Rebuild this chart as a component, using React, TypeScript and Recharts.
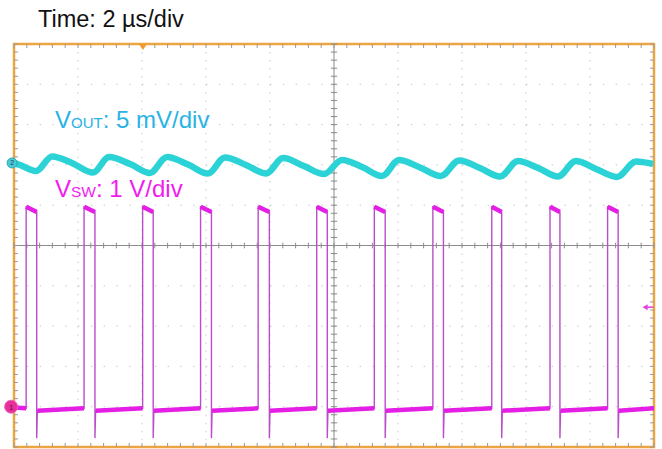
import React from "react";
import {
  ComposedChart,
  Line,
  XAxis,
  YAxis,
  CartesianGrid,
  ReferenceLine,
  ReferenceArea,
  ReferenceDot,
} from "recharts";

// time axis in µs (2 µs/div, 10 div); VSW axis in V (1 V/div, ground one div above bottom)
const majorX = [0, 2, 4, 6, 8, 10, 12, 14, 16, 18, 20];
const majorY = [-1, 0, 1, 2, 3, 4, 5, 6, 7, 8, 9];
const minorX = Array.from({ length: 51 }, (_, i) => +(i * 0.4).toFixed(2));
const minorY = Array.from({ length: 51 }, (_, i) => +(i * 0.2 - 1).toFixed(2));

// VOUT ripple, mV (5 mV/div)
const outTime = [
  0, 0.19, 0.69, 1.19, 1.81, 2.47, 2.97, 3.63, 4.25, 4.78, 5.44, 6.06, 6.59,
  7.25, 7.88, 8.41, 9.06, 9.69, 10.25, 10.88, 11.5, 12.03, 12.69, 13.34, 13.91,
  14.56, 15.19, 15.75, 16.38, 17.0, 17.56, 18.19, 18.84, 19.44, 19.97,
];
const outMv = [
  0.24, -0.01, -0.76, 1.04, 0.24, -0.94, 0.98, 0.11, -1.0, 0.98, 0.05, -1.07,
  0.92, -0.01, -1.07, 0.86, -0.14, -1.13, 0.61, -0.26, -1.38, 0.61, -0.32,
  -1.38, 0.55, -0.38, -1.44, 0.48, -0.38, -1.44, 0.48, -0.51, -1.5, 0.42, 0.11,
];

// VSW switching node, V: edge times in µs and levels
const swRise = [0.38, 2.19, 4.02, 5.83, 7.63, 9.46, 11.26, 13.09, 14.93, 16.75, 18.55];
const swFall = [0.71, 2.53, 4.35, 6.17, 7.98, 9.79, 11.6, 13.42, 15.24, 17.06, 18.88];
const swHigh = [4.96, 4.83]; // top at rising edge, top at falling edge
const swLow = [-0.1, -0.04]; // low after falling edge, low before rising edge
const swSpike = -0.78;

const outData = outTime.map((t, i) => ({ t, v: outMv[i] }));

const swEdges: { t: number; v: number | null }[] = [{ t: 0, v: -0.02 }];
const swFlat: { t: number; v: number | null }[] = [{ t: 0, v: -0.02 }];
swRise.forEach((r, i) => {
  const f = swFall[i];
  swEdges.push(
    { t: r, v: swLow[1] },
    { t: r, v: swHigh[0] },
    { t: f, v: swHigh[1] },
    { t: f, v: swSpike },
    { t: f + 0.02, v: swLow[0] }
  );
  swFlat.push(
    { t: r, v: swLow[1] },
    { t: r, v: null },
    { t: r, v: swHigh[0] },
    { t: f, v: swHigh[1] },
    { t: f, v: null },
    { t: f + 0.02, v: swLow[0] }
  );
});
swEdges.push({ t: 20, v: swLow[1] });
swFlat.push({ t: 20, v: swLow[1] });

const labelFont = "'Liberation Sans', Arial, sans-serif";
const tickGray = "#9a9a9a";

const seg = (key: string, a: { x: number; y: number }, b: { x: number; y: number }, stroke: string) => (
  <ReferenceLine key={key} xAxisId="t" yAxisId="sw" segment={[a, b]} stroke={stroke} strokeWidth={1} ifOverflow="visible" />
);

const App: React.FC = () => {
  return (
    <div style={{ position: "absolute", left: 0, top: 0, width: 662, height: 449, background: "#fff" }}>
      <ComposedChart width={662} height={449} margin={{ top: 44, left: 14, right: 8, bottom: 2 }}>
        <XAxis xAxisId="t" type="number" dataKey="t" domain={[0, 20]} ticks={majorX} hide allowDataOverflow />
        <YAxis yAxisId="sw" type="number" domain={[-1, 9]} ticks={majorY} hide allowDataOverflow />
        <YAxis yAxisId="out" type="number" domain={[-35, 15]} hide allowDataOverflow />

        <CartesianGrid xAxisId="t" yAxisId="sw" vertical={false} stroke="#c8c8c8" strokeDasharray="1.5 11.3" />
        <CartesianGrid xAxisId="t" yAxisId="sw" horizontal={false} stroke="#c8c8c8" strokeDasharray="1.5 6.56" />

        <ReferenceLine xAxisId="t" yAxisId="sw" x={10} stroke="#8c8c8c" strokeWidth={1} />
        <ReferenceLine xAxisId="t" yAxisId="sw" y={4} stroke="#8c8c8c" strokeWidth={1} />
        {minorX.map((x) => seg(`cx${x}`, { x, y: 3.93 }, { x, y: 4.07 }, "#8c8c8c"))}
        {minorY.map((y) => seg(`cy${y}`, { x: 9.9, y }, { x: 10.1, y }, "#8c8c8c"))}
        {minorX.map((x) => seg(`bx${x}`, { x, y: -1 }, { x, y: -0.9 }, tickGray))}
        {minorX.map((x) => seg(`tx${x}`, { x, y: 9 }, { x, y: 8.9 }, tickGray))}
        {minorY.map((y) => seg(`ly${y}`, { x: 0, y }, { x: 0.125, y }, tickGray))}
        {minorY.map((y) => seg(`ry${y}`, { x: 20, y }, { x: 19.875, y }, tickGray))}

        <Line
          data={swEdges}
          dataKey="v"
          xAxisId="t"
          yAxisId="sw"
          type="linear"
          stroke="#b94ec9"
          strokeWidth={1.4}
          dot={false}
          isAnimationActive={false}
        />
        <Line
          data={swFlat}
          dataKey="v"
          xAxisId="t"
          yAxisId="sw"
          type="linear"
          stroke="#e41ee4"
          strokeWidth={4.5}
          dot={false}
          connectNulls={false}
          isAnimationActive={false}
        />
        <Line
          data={outData}
          dataKey="v"
          xAxisId="t"
          yAxisId="out"
          type="monotone"
          stroke="#2cd3d6"
          strokeWidth={6.5}
          dot={false}
          isAnimationActive={false}
        />

        <ReferenceArea
          xAxisId="t"
          yAxisId="sw"
          x1={0}
          x2={20}
          y1={-1}
          y2={9}
          fill="none"
          fillOpacity={0}
          stroke="#eca540"
          strokeWidth={2.5}
          ifOverflow="visible"
        />

        <ReferenceDot
          xAxisId="t"
          yAxisId="sw"
          x={4.03}
          y={9}
          ifOverflow="visible"
          shape={(p: any) => (
            <path d={`M${p.cx - 4},${p.cy} L${p.cx + 4},${p.cy} L${p.cx},${p.cy + 6} Z`} fill="#f29a2e" />
          )}
        />
        <ReferenceDot
          xAxisId="t"
          yAxisId="sw"
          x={19.8}
          y={2.47}
          ifOverflow="visible"
          shape={(p: any) => (
            <g>
              <line x1={p.cx - 2} y1={p.cy} x2={p.cx + 6} y2={p.cy} stroke="#e040e0" strokeWidth={1.5} />
              <path d={`M${p.cx - 5},${p.cy} L${p.cx},${p.cy - 3} L${p.cx},${p.cy + 3} Z`} fill="#e040e0" />
            </g>
          )}
        />
        <ReferenceDot
          xAxisId="t"
          yAxisId="out"
          x={-0.06}
          y={0.24}
          ifOverflow="visible"
          shape={(p: any) => (
            <g>
              <circle cx={p.cx} cy={p.cy} r={5} fill="#4cc9d6" stroke="#2aa9b8" strokeWidth={1} />
              <text x={p.cx} y={p.cy + 2.5} textAnchor="middle" fontSize={7} fontFamily={labelFont} fill="#1a4a55">
                2
              </text>
            </g>
          )}
        />
        <ReferenceDot
          xAxisId="t"
          yAxisId="sw"
          x={-0.09}
          y={0}
          ifOverflow="visible"
          shape={(p: any) => (
            <g>
              <circle cx={p.cx} cy={p.cy} r={6.5} fill="#e8309a" stroke="#f060c0" strokeWidth={1} />
              <text x={p.cx} y={p.cy + 3} textAnchor="middle" fontSize={8} fontFamily={labelFont} fill="#7a1050">
                1
              </text>
            </g>
          )}
        />
      </ComposedChart>

      <svg width={662} height={449} style={{ position: "absolute", left: 0, top: 0, pointerEvents: "none" }}>
        <text x={38} y={27} fontSize={23.5} fontFamily={labelFont} fill="#111">
          Time: 2 µs/div
        </text>
        <text x={55} y={128} fontFamily={labelFont} fill="#2ab3e6">
          <tspan fontSize={24}>V</tspan>
          <tspan fontSize={15}>OUT</tspan>
          <tspan fontSize={24}>: 5 mV/div</tspan>
        </text>
        <text x={55} y={197} fontFamily={labelFont} fill="#f01cf0">
          <tspan fontSize={24}>V</tspan>
          <tspan fontSize={15.5}>SW</tspan>
          <tspan fontSize={24}>: 1 V/div</tspan>
        </text>
      </svg>
    </div>
  );
};

export default App;
